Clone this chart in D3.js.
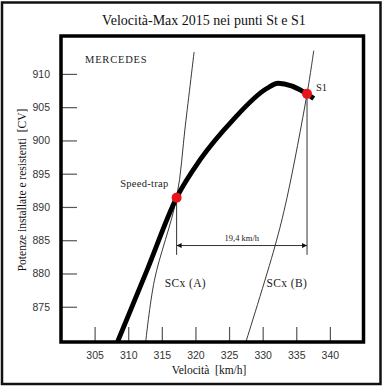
<!DOCTYPE html>
<html>
<head>
<meta charset="utf-8">
<script src="https://cdn.jsdelivr.net/npm/d3@7"></script>
<style>
  html, body { margin: 0; padding: 0; background: #fff; }
  svg { display: block; }
  text { white-space: pre; }
</style>
</head>
<body>
<svg id="chart" width="383" height="388"></svg>
<script>
// ---------- data ----------
const title = "Velocità-Max 2015 nei punti St e S1";
const team = "MERCEDES";
const xTitle = "Velocità  [km/h]";
const yTitle = "Potenze installate e resistenti  [CV]";
const xTicks = [305, 310, 315, 320, 325, 330, 335, 340];
const yTicks = [875, 880, 885, 890, 895, 900, 905, 910];

// installed power curve (Mercedes)
const curveV = [308.4, 312.8, 317.2, 320.7, 325.6, 330.6, 332.3, 336.6, 337.6];
const curveP = [869.7, 880.5, 891.4, 897.1, 903.1, 907.8, 908.6, 907.0, 906.3];

// resistance curves
const scxAV = [312.6, 313.9, 317.2, 318.5, 319.8];
const scxAP = [869.7, 879.0, 891.4, 902.3, 913.3];
const scxBV = [327.5, 331.8, 333.6, 336.6, 337.6];
const scxBP = [869.7, 884.0, 891.3, 907.0, 913.5];
const scxLabels = ["SCx (A)", "SCx (B)"];
const scxLabelV = [318.5, 333.6];
const scxLabelP = [878.0, 878.0];

// points
const pointNames = ["Speed-trap", "S1"];
const pointV = [317.2, 336.6];
const pointP = [891.4, 907.0];

// gap dimension
const gapLabel = "19,4 km/h";
const gapP = 884.2;
const gapBottomP = 882.8;

// ---------- drawing ----------
const svg = d3.select("#chart");
const serif = "'Liberation Serif', 'Times New Roman', serif";
const sans = "'Liberation Sans', Arial, sans-serif";

const x = d3.scaleLinear([300, 345], [61, 363.5]);
const y = d3.scaleLinear([869.7, 915.7], [342, 36]);

// outer border
svg.append("rect").attr("x", 2).attr("y", 2.5).attr("width", 378.5).attr("height", 381.5)
  .attr("fill", "none").attr("stroke", "#111").attr("stroke-width", 2.5);

// title
svg.append("text").attr("x", 204).attr("y", 25).attr("text-anchor", "middle")
  .attr("font-family", serif).attr("font-size", 14).attr("fill", "#111").text(title);

// axes
const yAxis = d3.axisLeft(y).tickValues(yTicks).tickSize(-16).tickPadding(11).tickFormat(d3.format("d"));
const gy = svg.append("g").attr("transform", "translate(61,0)").call(yAxis);
gy.select(".domain").remove();
gy.selectAll(".tick line").attr("stroke", "#555").attr("stroke-width", 1.2);
gy.selectAll("text").attr("font-family", sans).attr("font-size", 10.5).attr("fill", "#333");

const xAxis = d3.axisBottom(x).tickValues(xTicks).tickSize(-15).tickPadding(10).tickFormat(d3.format("d"));
const gx = svg.append("g").attr("transform", "translate(0,342)").call(xAxis);
gx.select(".domain").remove();
gx.selectAll(".tick line").attr("stroke", "#555").attr("stroke-width", 1.2);
gx.selectAll("text").attr("font-family", sans).attr("font-size", 10.5).attr("fill", "#333");

// axis titles
svg.append("text").attr("x", 209).attr("y", 374).attr("text-anchor", "middle")
  .attr("font-family", serif).attr("font-size", 11.5).attr("fill", "#111").text(xTitle);
svg.append("text").attr("transform", "translate(26,190) rotate(-90)").attr("text-anchor", "middle")
  .attr("font-family", serif).attr("font-size", 11.5).attr("fill", "#111").text(yTitle);

// team label
svg.append("text").attr("x", 85).attr("y", 63).attr("font-family", serif).attr("font-size", 10.5)
  .attr("letter-spacing", 0.8).attr("fill", "#222").text(team);

const plot = svg.append("g");
const thinLine = d3.line().x(d => x(d[0])).y(d => y(d[1])).curve(d3.curveCatmullRom.alpha(0.5));
const powerLine = d3.line().x(d => x(d[0])).y(d => y(d[1])).curve(d3.curveMonotoneX);

// resistance curves
[[scxAV, scxAP], [scxBV, scxBP]].forEach(([vs, ps]) => {
  plot.append("path").datum(vs.map((v, i) => [v, ps[i]])).attr("d", thinLine)
    .attr("fill", "none").attr("stroke", "#222").attr("stroke-width", 0.9);
});
scxLabels.forEach((t, i) => {
  plot.append("text").attr("x", x(scxLabelV[i])).attr("y", y(scxLabelP[i])).attr("text-anchor", "middle")
    .attr("font-family", serif).attr("font-size", 11.5).attr("letter-spacing", 0.4).attr("fill", "#222").text(t);
});

// vertical dimension lines
pointV.forEach((v, i) => {
  plot.append("line").attr("x1", x(v)).attr("x2", x(v)).attr("y1", y(pointP[i])).attr("y2", y(gapBottomP))
    .attr("stroke", "#333").attr("stroke-width", 1);
});

// double arrow
const defs = svg.append("defs");
defs.append("marker").attr("id", "arr").attr("viewBox", "0 0 10 10").attr("refX", 10).attr("refY", 5)
  .attr("markerWidth", 7).attr("markerHeight", 5).attr("markerUnits", "userSpaceOnUse").attr("orient", "auto-start-reverse")
  .append("path").attr("d", "M0,0L10,5L0,10Z").attr("fill", "#111");
plot.append("line").attr("x1", x(pointV[0])).attr("x2", x(pointV[1])).attr("y1", y(gapP)).attr("y2", y(gapP))
  .attr("stroke", "#333").attr("stroke-width", 1)
  .attr("marker-start", "url(#arr)").attr("marker-end", "url(#arr)");
plot.append("text").attr("x", (x(pointV[0]) + x(pointV[1])) / 2).attr("y", y(gapP) - 5).attr("text-anchor", "middle")
  .attr("font-family", serif).attr("font-size", 8.5).attr("fill", "#222").text(gapLabel);

// power curve
plot.append("path").datum(curveV.map((v, i) => [v, curveP[i]])).attr("d", powerLine)
  .attr("fill", "none").attr("stroke", "#000").attr("stroke-width", 4.8).attr("stroke-linecap", "butt");

// points
pointV.forEach((v, i) => {
  plot.append("circle").attr("cx", x(v)).attr("cy", y(pointP[i])).attr("r", 5).attr("fill", "#e8141c");
});
plot.append("text").attr("x", x(pointV[0]) - 8).attr("y", y(pointP[0]) - 11).attr("text-anchor", "end")
  .attr("font-family", serif).attr("font-size", 10.5).attr("letter-spacing", 0.3).attr("fill", "#222").text(pointNames[0]);
plot.append("text").attr("x", x(pointV[1]) + 9).attr("y", y(pointP[1]) - 3)
  .attr("font-family", serif).attr("font-size", 10.5).attr("fill", "#222").text(pointNames[1]);

// plot frame
svg.append("rect").attr("x", 61).attr("y", 36).attr("width", 302.5).attr("height", 306)
  .attr("fill", "none").attr("stroke", "#000").attr("stroke-width", 3.5);
</script>
</body>
</html>
